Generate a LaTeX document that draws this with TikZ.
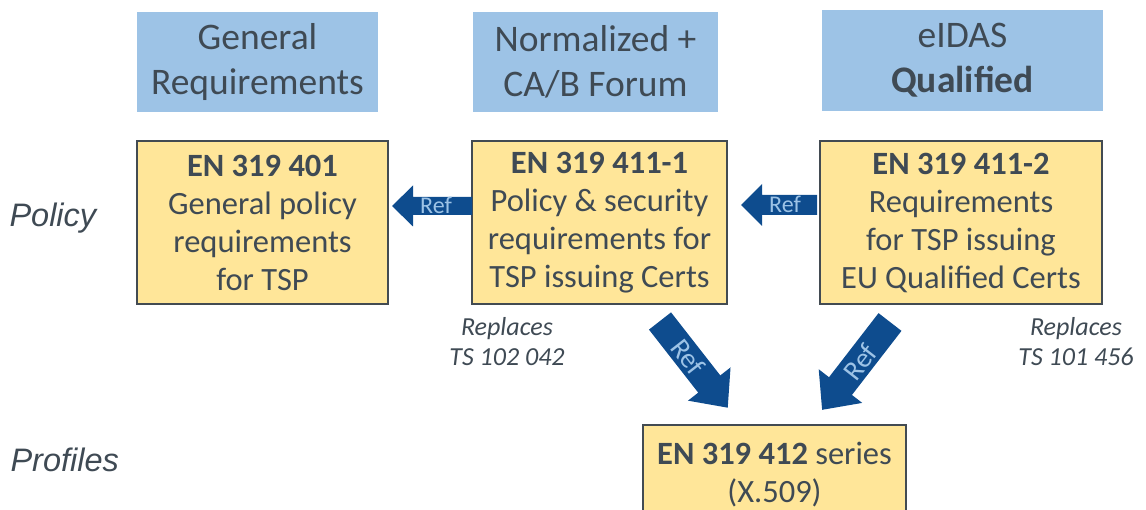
\documentclass[tikz,border=0pt]{standalone}
\usepackage{fontspec}
\setmainfont{Carlito}
\newfontfamily\arialfont{Liberation Sans}
\definecolor{yel}{HTML}{FFE699}
\definecolor{blu}{HTML}{9DC3E6}
\definecolor{txt}{HTML}{3F4A54}
\definecolor{boxline}{HTML}{434B52}
\definecolor{arrowblue}{HTML}{0E4C8E}
\definecolor{reftxt}{HTML}{9DC3E6}
\newcommand\refarrow[7]{%
  \fill[arrowblue, shift={(#1,#2)}, rotate=#3]
    (0,#5) -- (#4-#7,#5) -- (#4-#7,#6) -- (#4,0) -- (#4-#7,-#6) -- (#4-#7,-#5) -- (0,-#5) -- cycle;}
\begin{document}
\begin{tikzpicture}[x=1pt,y=-1pt,
  yelbox/.style={draw=boxline, line width=2.5pt, fill=yel, align=center, text=txt,
    font=\fontsize{32.5}{38}\selectfont, inner sep=0pt},
  blubox/.style={fill=blu, align=center, text=txt, font=\fontsize{37.5}{45}\selectfont, inner sep=0pt},
  side/.style={anchor=west, text=txt, font=\arialfont\itshape\fontsize{32.5}{38}\selectfont},
  repl/.style={align=center, text=txt, font=\itshape\fontsize{26}{30}\selectfont},
  reflabel/.style={text=reftxt, font=\fontsize{24}{26}\selectfont, inner sep=0pt},
  refdiag/.style={text=reftxt, font=\fontsize{28}{30}\selectfont, inner sep=0pt}]
\useasboundingbox (0,0) rectangle (1146,510);
\clip (0,0) rectangle (1146,510);

% top headers
\node[blubox, minimum width=241pt, minimum height=100pt] (h1) at (257.5,62) {General\\Requirements};
\node[blubox, minimum width=245pt, minimum height=100pt] (h2) at (595.5,62) {Normalized +\\CA/B Forum};
\node[blubox, minimum width=281pt, minimum height=101pt] (h3) at (962.5,60.5) {eIDAS\\\textbf{Qualified}};

% policy boxes
\node[yelbox, minimum width=251pt, minimum height=163pt] (p1) at (262.5,222.5)
  {\textbf{EN 319 401}\\General policy\\requirements\\for TSP};
\node[yelbox, minimum width=255pt, minimum height=163pt] (p2) at (599.5,222.5)
  {\textbf{EN 319 411-1}\\Policy \& security\\requirements for\\TSP issuing Certs};
\node[yelbox, minimum width=282pt, minimum height=163pt] (p3) at (961,222.5)
  {\textbf{EN 319 411-2}\\Requirements\\for TSP issuing\\EU Qualified Certs};

% profiles box
\node[yelbox, minimum width=263pt, minimum height=100pt] (pr) at (774.5,475)
  {\textbf{EN 319 412} series\\(X.509)};

% side labels
\node[side] (lpol) at (6,218) {Policy};
\node[side] (lpro) at (7,460) {Profiles};

% replaces notes
\node[repl] (r1) at (507,342) {Replaces\\TS 102 042};
\node[repl] (r2) at (1076,342) {Replaces\\TS 101 456};

% block arrows
\refarrow{472}{206}{180}{80}{9}{20.5}{21}
\node[reflabel] (a1) at (436,205) {Ref};
\refarrow{817}{205}{180}{76}{10}{21}{21}
\node[reflabel] (a2) at (785,204) {Ref};
\refarrow{660}{321}{-52}{110}{14}{27}{30}
\node[refdiag, rotate=-52] (a3) at (688,357) {Ref};
\refarrow{890}{322}{-127.7}{111}{14.5}{27.5}{30}
\node[refdiag, rotate=52] (a4) at (860,362) {Ref};
\end{tikzpicture}
\end{document}
